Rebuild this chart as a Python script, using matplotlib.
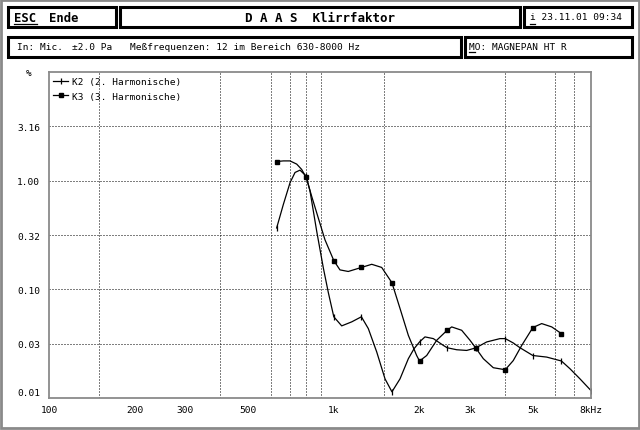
import matplotlib
matplotlib.use("Agg")
import matplotlib.pyplot as plt
from matplotlib.patches import Rectangle
from matplotlib.lines import Line2D
from matplotlib.transforms import ScaledTranslation, blended_transform_factory

plt.rcParams['font.family'] = 'DejaVu Sans Mono'

# measured frequencies (12 im Bereich 630-8000 Hz)
meas_f = [630, 800, 1000, 1250, 1600, 2000, 2500, 3150, 4000, 5000, 6300, 8000]

# K2 curve (Hz, %)
k2_f = [630, 665, 702, 731, 761, 800, 825, 871, 919, 957, 1000, 1066, 1156, 1250,
        1322, 1415, 1513, 1600, 1708, 1827, 1913, 2000, 2090, 2236, 2424, 2500,
        2701, 2928, 3150, 3443, 3833, 4000, 4267, 4507, 5000, 5591, 6300, 6748,
        7318, 8000]
k2_v = [0.367, 0.604, 0.958, 1.19, 1.25, 1.10, 0.803, 0.342, 0.157, 0.093, 0.0559,
        0.0461, 0.0502, 0.0559, 0.0435, 0.0265, 0.0150, 0.0114, 0.0150, 0.0230,
        0.0284, 0.0328, 0.0365, 0.0352, 0.0305, 0.0290, 0.0278, 0.0274, 0.0289,
        0.0328, 0.0352, 0.0352, 0.0321, 0.0290, 0.0246, 0.0238, 0.0219, 0.0186,
        0.0150, 0.0117]

# K3 curve (no value at 8000 Hz)
k3_f = [630, 665, 702, 741, 771, 800, 836, 882, 931, 1000, 1051, 1124, 1250, 1359,
        1473, 1600, 1708, 1827, 1954, 2000, 2119, 2298, 2500, 2594, 2812, 3007,
        3150, 3350, 3631, 4000, 4267, 4570, 5000, 5370, 5823, 6300]
k3_v = [1.50, 1.52, 1.52, 1.42, 1.27, 1.07, 0.72, 0.454, 0.286, 0.184, 0.151, 0.146,
        0.159, 0.170, 0.159, 0.115, 0.0667, 0.0377, 0.0246, 0.0219, 0.0246, 0.0340,
        0.0420, 0.0451, 0.0420, 0.0340, 0.0289, 0.0230, 0.0190, 0.0182, 0.0221,
        0.0305, 0.0445, 0.0484, 0.0451, 0.0391]

x_ticks = [100, 200, 300, 500, 1000, 2000, 3000, 5000, 8000]
x_labels = ['100', '200', '300', '500', '1k', '2k', '3k', '5k', '8kHz']
x_grid = [150, 200, 300, 400, 500, 600, 700, 800, 900, 1000, 1500, 2000, 3000,
          4000, 5000, 6000, 7000]
y_ticks = [0.01, 0.0316, 0.1, 0.316, 1.0, 3.16]
y_labels = ['0.01', '0.03', '0.10', '0.32', '1.00', '3.16']

W, H = 640, 431
fig = plt.figure(figsize=(W / 100, H / 100), dpi=100)
fig.patch.set_facecolor('white')


def fx(x):
    return x / W


def fy(y):
    return 1 - y / H


def box(x0, y0, x1, y1, lw=2.2, color='black'):
    fig.add_artist(Rectangle((fx(x0), fy(y1)), fx(x1) - fx(x0), fy(y0) - fy(y1),
                             fill=False, lw=lw, edgecolor=color,
                             transform=fig.transFigure))


def uline(x0, x1, y):
    fig.add_artist(Line2D([fx(x0), fx(x1)], [fy(y), fy(y)], lw=0.9, color='black',
                          transform=fig.transFigure))


# outer dithered frame
box(1, 1, 639, 429, lw=2.0, color='#8a8a8a')

# header boxes
box(8, 8, 116, 28)
box(120, 8, 520, 28)
box(524, 8, 632, 28)
box(8, 38, 461, 58)
box(465, 38, 632, 58)

fig.text(fx(14), fy(18), 'ESC', fontsize=8.8, fontweight='bold', va='center')
uline(14, 37, 24.5)
fig.text(fx(49), fy(18), 'Ende', fontsize=8.8, fontweight='bold', va='center')
fig.text(fx(320), fy(18), 'D A A S  Klirrfaktor', fontsize=9, fontweight='bold',
         va='center', ha='center')
fig.text(fx(530), fy(18), 'i 23.11.01 09:34', fontsize=6.8, va='center')
uline(530, 535, 24.5)
fig.text(fx(17), fy(47), 'In: Mic.', fontsize=6.8, va='center')
fig.text(fx(72), fy(47), '±2.0 Pa', fontsize=6.8, va='center')
fig.text(fx(130), fy(47), 'Meßfrequenzen: 12 im Bereich 630-8000 Hz', fontsize=6.8,
         va='center')
fig.text(fx(469), fy(47), 'MO: MAGNEPAN HT R', fontsize=6.8, va='center')
uline(469, 475, 53)

# plot area
ax = fig.add_axes([fx(49), fy(399), fx(591) - fx(49), fy(73) - fy(399)])
ax.set_xscale('log')
ax.set_yscale('log')
ax.set_xlim(100, 8000)
ax.set_ylim(0.01, 10)

k2_marks = [k2_f.index(f) for f in meas_f if f in k2_f]
k3_marks = [k3_f.index(f) for f in meas_f if f in k3_f]

ax.plot(k2_f, k2_v, color='black', lw=0.9, marker='|', ms=4.5, mew=0.9,
        markevery=k2_marks, label='K2 (2. Harmonische)')
ax.plot(k3_f, k3_v, color='black', lw=0.9, marker='s', ms=2.6,
        markevery=k3_marks, label='K3 (3. Harmonische)')

ax.set_xticks(x_ticks)
ax.set_xticklabels(x_labels)
ax.set_xticks(x_grid, minor=True)
ax.set_xticklabels([], minor=True)
ax.set_yticks(y_ticks)
ax.set_yticklabels(y_labels)
ax.set_yticks([], minor=True)
ax.tick_params(axis='both', which='both', length=0, labelsize=6.8)
ax.tick_params(axis='x', pad=5)
ax.tick_params(axis='y', pad=6.5)

# move the bottom label (0.01) up a little like the reference
lab0 = ax.get_yticklabels()[0]
lab0.set_transform(lab0.get_transform() + ScaledTranslation(0, 6 / 100, fig.dpi_scale_trans))

ax.xaxis.grid(True, which='minor', color='black', lw=0.72, linestyle=(0, (1, 2)))
ax.xaxis.grid(False, which='major')
ax.yaxis.grid(True, which='major', color='black', lw=0.72, linestyle=(0, (1, 2)))

for sp in ax.spines.values():
    sp.set_color('#8a8a8a')
    sp.set_linewidth(1.3)

trans = blended_transform_factory(ax.transAxes, ax.transData)
ax.text(-20 / 542, 10, '%', fontsize=6.8, ha='center', va='center', transform=trans)

leg = ax.legend(loc='upper left', bbox_to_anchor=(4 / 542, 1 - 5 / 326), frameon=False,
                fontsize=6.8, handlelength=1.6, handletextpad=0.45, labelspacing=0.6,
                borderpad=0, borderaxespad=0, numpoints=1)

fig.savefig('out.png', dpi=100)
